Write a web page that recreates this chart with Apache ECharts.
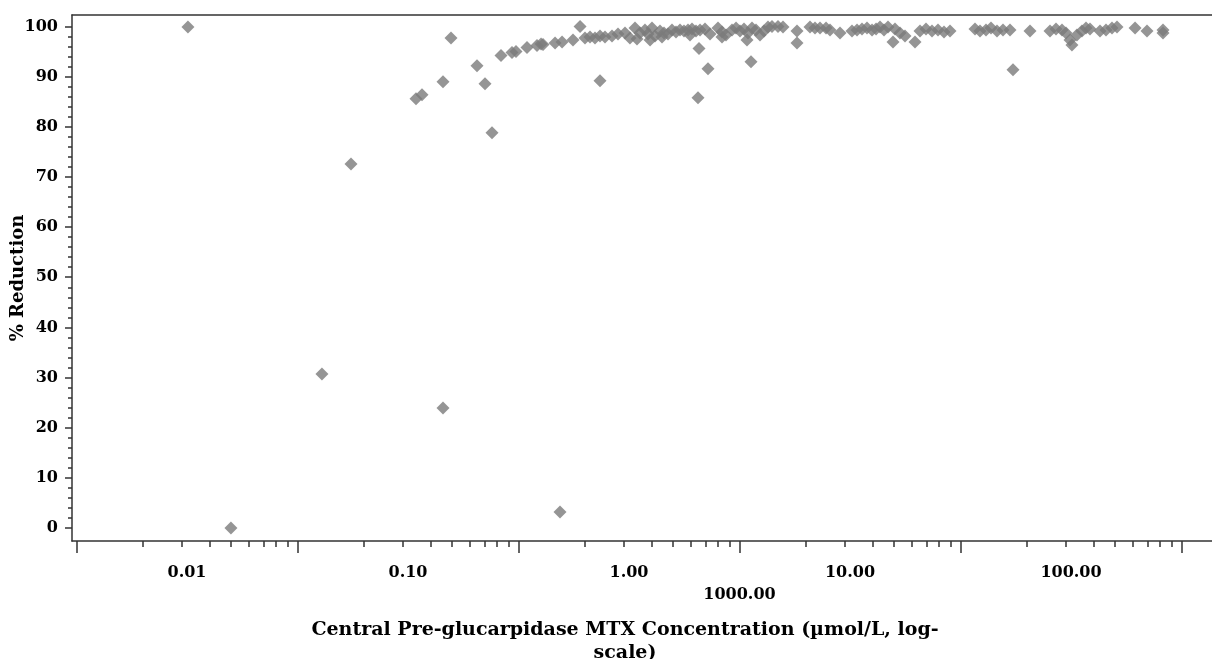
<!DOCTYPE html>
<html><head><meta charset="utf-8">
<script src="https://cdn.jsdelivr.net/npm/echarts@6/dist/echarts.min.js"></script>
<style>html,body{margin:0;padding:0;background:#fff}#c{width:1212px;height:659px}</style>
</head><body><div id="c"></div>
<script>
// Central pre-glucarpidase MTX concentration (µmol/L, as labelled on the log axis)
const concentration = [
  0.0101, 0.0158, 0.0408, 0.0552, 0.1087, 0.1157, 0.144, 0.144, 0.1565, 0.2052,
  0.2231, 0.2399, 0.2635, 0.2955, 0.3081, 0.3455, 0.3835, 0.3999, 0.4083, 0.4627,
  0.4874, 0.4977, 0.5579, 0.6004, 0.6324, 0.6662, 0.7018, 0.7393, 0.7393, 0.7789,
  0.8377, 0.8917, 0.9592, 1.0645, 1.087, 1.121, 1.181, 1.219, 1.271, 1.311,
  1.381, 1.44, 1.501, 1.565, 1.632, 1.701, 1.774, 1.849, 1.928, 2.01,
  2.074, 2.052, 2.096, 2.208, 2.278, 2.527, 2.635, 2.748, 2.925, 3.05,
  3.178, 3.314, 3.455, 3.565, 3.603, 3.755, 3.915, 4.082, 4.256, 4.437,
  4.723, 4.975, 5.757, 5.757, 6.592, 6.943, 7.316, 7.79, 8.12, 9.01,
  10.21, 10.76, 11.33, 11.94, 12.58, 13.12, 13.67, 14.25, 14.86, 15.65,
  15.98, 16.84, 17.74, 19.68, 20.74, 22.07, 23.5, 25.01, 26.63, 28.34,
  36.78, 38.74, 41.25, 43.45, 46.26, 49.24, 52.97, 54.65, 65.25, 80.35,
  85.52, 91.06, 94.93, 98.97, 101.0, 106.4, 112.1, 116.9, 121.9, 135.3,
  144.0, 153.3, 161.5, 194.9, 220.8, 260.8, 260.8,
  1.01, 1.245, 1.41, 1.888, 2.635, 3.42, 2.326
];
// % Reduction
const reduction = [
  99.9, 0, 30.7, 72.6, 85.6, 86.4, 89.0, 23.9, 97.7, 92.2,
  88.6, 78.8, 94.2, 94.8, 95.0, 95.8, 96.2, 96.5, 96.4, 96.7,
  3.2, 96.9, 97.3, 100, 97.7, 97.9, 97.7, 89.2, 98.1, 97.9,
  98.1, 98.5, 98.7, 99.7, 97.5, 98.7, 99.3, 98.5, 99.7, 98.1,
  99.1, 98.7, 98.5, 99.3, 98.9, 99.3, 99.1, 99.3, 99.5, 99.1,
  95.6, 85.8, 99.3, 99.5, 91.6, 99.7, 98.9, 98.3, 99.3, 99.7,
  99.1, 99.5, 98.7, 93.0, 99.7, 99.3, 98.3, 99.1, 99.9, 100,
  100, 99.9, 96.7, 99.1, 99.9, 99.7, 99.7, 99.7, 99.3, 98.7,
  99.1, 99.3, 99.5, 99.7, 99.3, 99.5, 99.9, 99.3, 99.9, 96.9,
  99.5, 98.7, 98.1, 96.9, 99.1, 99.5, 99.1, 99.3, 98.9, 99.1,
  99.5, 99.1, 99.3, 99.7, 99.1, 99.3, 99.3, 91.4, 99.1, 99.1,
  99.5, 99.3, 98.7, 97.3, 96.3, 98.3, 99.1, 99.7, 99.5, 99.1,
  99.3, 99.7, 99.9, 99.7, 99.1, 98.7, 99.3,
  97.7, 97.3, 97.9, 98.3, 97.9, 97.3, 98.5
];
const xTickLabels = ['0.01', '0.10', '1.00', '10.00', '100.00'];
const xExtraTickLabel = '1000.00';
const yTickLabels = [0, 10, 20, 30, 40, 50, 60, 70, 80, 90, 100];
const xAxisTitle = 'Central Pre-glucarpidase MTX Concentration (µmol/L, log-\nscale)';
const yAxisTitle = '% Reduction';

const points = concentration.map((c, i) => [c, reduction[i]]);

const LOG_MIN = -2.5204, LOG_MAX = 2.638;
const Y_MIN = -2.6, Y_MAX = 102.3;
const majorX = [-2.5, -1.5, -0.5, 0.5, 1.5, 2.5];
const minorX = [];
majorX.slice(0, -1).forEach(d => { for (let k = 2; k <= 9; k++) minorX.push(d + Math.log10(k)); });
const labelX = xTickLabels.map(s => Math.log10(parseFloat(s)));
const minorY = [];
for (let v = 2; v < 100; v += 2) if (v % 10 !== 0) minorY.push(v);

const txt = { fontFamily: 'DejaVu Serif', fontWeight: 'bold', fontSize: 16, color: '#000' };
const lineStyle = { color: '#333', width: 1.5 };
const none = { show: false };

function tickAxis(extra) {
  return Object.assign({
    type: 'value', min: LOG_MIN, max: LOG_MAX, position: 'bottom',
    axisLine: { show: false, onZero: false }, axisTick: none, axisLabel: none, splitLine: none
  }, extra);
}

const chart = echarts.init(document.getElementById('c'), null, { renderer: 'canvas' });
chart.setOption({
  animation: false,
  backgroundColor: '#fff',
  title: {
    text: xAxisTitle, left: 620, top: 614, textAlign: 'center',
    textStyle: Object.assign({}, txt, { fontSize: 19, lineHeight: 23 })
  },
  grid: { left: 72, right: 0, top: 15, bottom: 118, containLabel: false, outerBoundsMode: 'none' },
  xAxis: [
    { type: 'log', logBase: 10, min: Math.pow(10, LOG_MIN), max: Math.pow(10, LOG_MAX), position: 'bottom',
      axisLine: { show: true, onZero: false, lineStyle }, axisTick: none, axisLabel: none, splitLine: none, minorTick: none },
    tickAxis({ axisTick: { show: true, customValues: majorX, length: 12, lineStyle },
      axisLabel: { show: true, customValues: labelX, margin: 24,
        formatter: v => xTickLabels[labelX.findIndex(p => Math.abs(p - v) < 1e-6)] || '', ...txt } }),
    tickAxis({ axisTick: { show: true, customValues: minorX, length: 6, lineStyle } }),
    tickAxis({ axisLabel: { show: true, customValues: [0.5], margin: 46, formatter: () => xExtraTickLabel, ...txt } }),
    tickAxis({ position: 'top', axisLine: { show: true, onZero: false, lineStyle } })
  ],
  yAxis: [
    { type: 'value', min: Y_MIN, max: Y_MAX, position: 'left',
      name: yAxisTitle, nameLocation: 'middle', nameGap: 45, nameRotate: 90, nameMoveOverlap: false,
      nameTextStyle: Object.assign({}, txt, { fontSize: 18 }),
      axisLine: { show: true, onZero: false, lineStyle },
      axisTick: { show: true, customValues: yTickLabels, length: 7, lineStyle },
      axisLabel: { show: true, customValues: yTickLabels, margin: 14, ...txt },
      splitLine: none },
    { type: 'value', min: Y_MIN, max: Y_MAX, position: 'left',
      axisLine: { show: false, onZero: false }, axisTick: { show: true, customValues: minorY, length: 4, lineStyle },
      axisLabel: none, splitLine: none }
  ],
  series: [{
    type: 'scatter', xAxisIndex: 0, yAxisIndex: 0,
    symbol: 'diamond', symbolSize: 13,
    itemStyle: { color: '#7b7b7b' },
    data: points
  }]
});
</script>
</body></html>
